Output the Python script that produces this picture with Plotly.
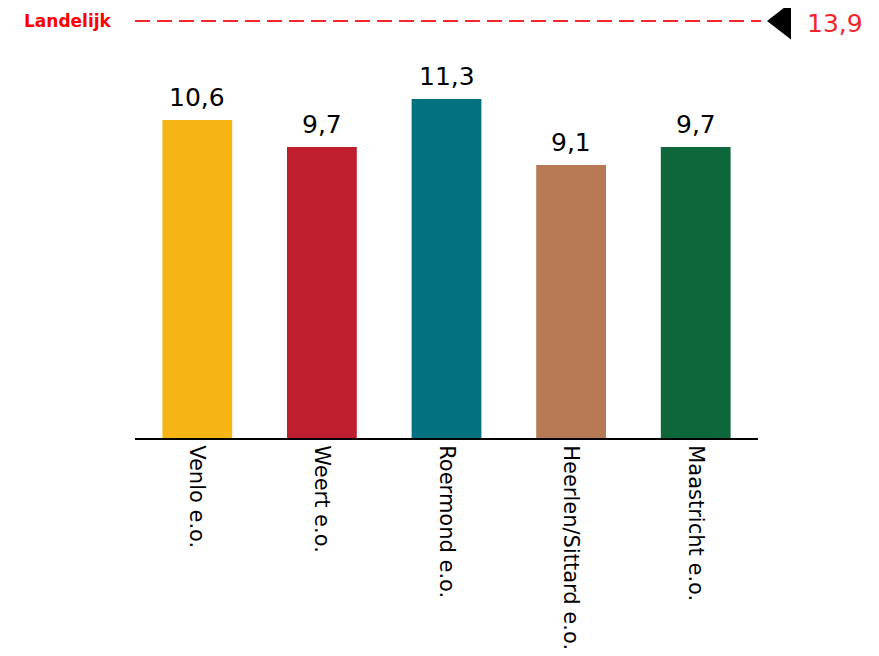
import plotly.graph_objects as go

categories = ["Venlo e.o.", "Weert e.o.", "Roermond e.o.", "Heerlen/Sittard e.o.", "Maastricht e.o."]
values = [10.6, 9.7, 11.3, 9.1, 9.7]
value_labels = ["10,6", "9,7", "11,3", "9,1", "9,7"]
bar_colors = ["#F7B515", "#BE1E2D", "#03717F", "#B77A55", "#0E673A"]
national_value = 13.9
national_label = "13,9"
national_name = "Landelijk"

fig = go.Figure()
fig.add_trace(go.Bar(
    x=categories, y=values,
    marker=dict(color=bar_colors, line=dict(width=0)),
    width=0.56, showlegend=False, hoverinfo="skip",
))
for c, v, t in zip(categories, values, value_labels):
    fig.add_annotation(x=c, y=v, xref="x", yref="y", text=t, showarrow=False,
                       yanchor="bottom", yshift=6,
                       font=dict(size=25, color="black", family="DejaVu Sans"))

# national reference marker (x2 axis spans the full width right of the left margin)
fig.add_trace(go.Scatter(
    x=[648], y=[national_value], xaxis="x2", yaxis="y", mode="markers",
    marker=dict(symbol="triangle-left", size=32, color="black"),
    cliponaxis=False, showlegend=False, hoverinfo="skip",
))
fig.add_shape(type="line", xref="x2", yref="y", x0=0, x1=626,
              y0=national_value, y1=national_value,
              line=dict(color="#F5262C", width=2, dash="15px,7px"))
fig.add_annotation(xref="paper", yref="y", x=-22 / 752, y=national_value,
                   text="<b>" + national_name + "</b>", showarrow=False,
                   xanchor="right", yanchor="middle", borderpad=0,
                   font=dict(size=17, color="#FF0000", family="DejaVu Sans"))
fig.add_annotation(xref="paper", yref="y", x=671 / 752, y=national_value,
                   text=national_label, showarrow=False,
                   xanchor="left", yanchor="middle", borderpad=0, yshift=-3,
                   font=dict(size=25, color="#F0262C", family="DejaVu Sans"))

fig.update_layout(
    width=879, height=656,
    margin=dict(l=127, r=0, t=0, b=226),
    plot_bgcolor="rgba(0,0,0,0)", paper_bgcolor="white",
    xaxis=dict(domain=[0, 623 / 752], showline=True, linecolor="black", linewidth=2,
               tickangle=90, ticks="", ticklabelstandoff=1,
               tickfont=dict(size=21, color="black", family="DejaVu Sans"),
               showgrid=False, zeroline=False),
    xaxis2=dict(domain=[0, 1], range=[0, 752], visible=False, anchor="y",
                showgrid=False, zeroline=False),
    yaxis=dict(range=[0, 14.33], visible=False, showgrid=False, zeroline=False),
)
fig.write_html("out.html")
